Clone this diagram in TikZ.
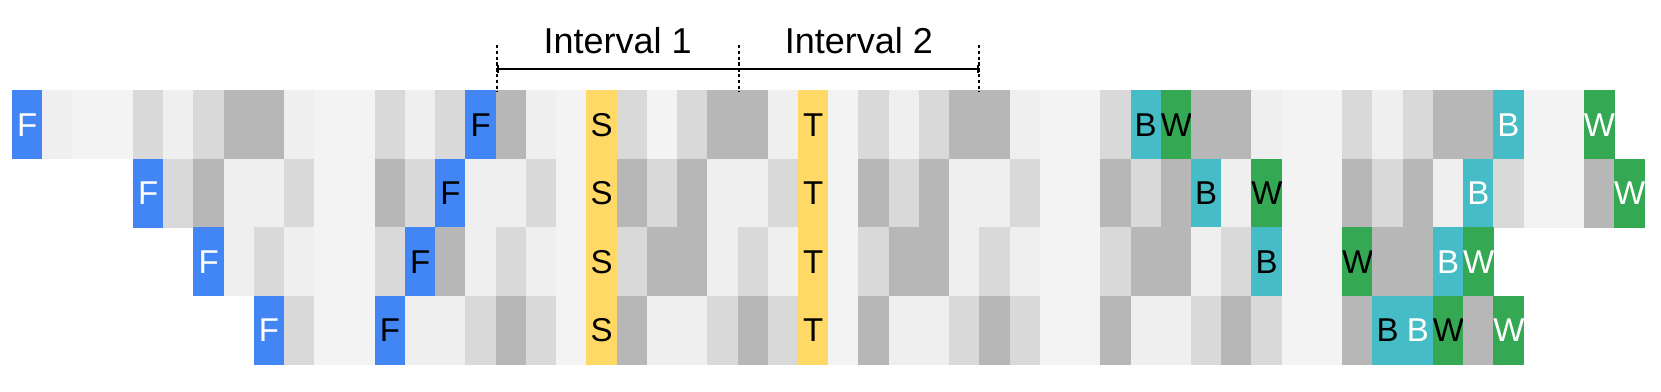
\documentclass[tikz,border=0pt]{standalone}
\usepackage{fontspec}
\setmainfont{Liberation Sans}
\usetikzlibrary{arrows.meta}
\definecolor{g0}{HTML}{F3F3F3}
\definecolor{g1}{HTML}{EFEFEF}
\definecolor{g2}{HTML}{D9D9D9}
\definecolor{g3}{HTML}{B7B7B7}
\definecolor{fblue}{HTML}{4285F4}
\definecolor{syellow}{HTML}{FFD966}
\definecolor{bteal}{HTML}{46BDC6}
\definecolor{wgreen}{HTML}{34A853}
\tikzset{
  cell/.style={rectangle, minimum width=30.4pt, minimum height=68.7pt, inner sep=0pt, outer sep=0pt, anchor=north west, font=\fontsize{33}{33}\selectfont},
  c0/.style={fill=g0}, c1/.style={fill=g1}, c2/.style={fill=g2}, c3/.style={fill=g3},
  cFw/.style={fill=fblue, text=white}, cFk/.style={fill=fblue, text=black},
  cS/.style={fill=syellow}, cT/.style={fill=syellow},
  cBw/.style={fill=bteal, text=white}, cBk/.style={fill=bteal, text=black},
  cWw/.style={fill=wgreen, text=white}, cWk/.style={fill=wgreen, text=black},
  dashline/.style={line width=2pt, dash pattern=on 3.4pt off 2.4pt},
  intlabel/.style={anchor=base, font=\fontsize{36}{36}\selectfont, inner sep=0pt}
}
\expandafter\def\csname lt0\endcsname{}
\expandafter\def\csname lt1\endcsname{}
\expandafter\def\csname lt2\endcsname{}
\expandafter\def\csname lt3\endcsname{}
\def\ltFw{F}\def\ltFk{F}\def\ltS{S}\def\ltT{T}
\def\ltBw{B}\def\ltBk{B}\def\ltWw{W}\def\ltWk{W}
\begin{document}
\begin{tikzpicture}[x=1pt,y=-1pt]
\useasboundingbox (0,0) rectangle (1661,391);
% row 1
\foreach \c [count=\k from 0] in {Fw,1,0,0,2,1,2,3,3,1,0,0,2,1,2,Fk,3,1,0,S,2,0,2,3,3,1,T,0,2,1,2,3,3,1,0,0,2,Bk,Wk,3,3,1,0,0,2,1,2,3,3,Bw,0,0,Ww}
  \node[cell,c\c] (ra\k) at ({12+30.23*\k},90.3) {\csname lt\c\endcsname};
% row 2
\foreach \c [count=\k from 4] in {Fw,2,3,1,1,2,0,0,3,2,Fk,1,1,2,0,S,3,2,3,1,1,2,T,0,3,2,3,1,1,2,0,0,3,2,3,Bk,1,Wk,0,0,3,2,3,1,Bw,2,0,0,3,Ww}
  \node[cell,c\c] (rb\k) at ({12+30.23*\k},158.8) {\csname lt\c\endcsname};
% row 3
\foreach \c [count=\k from 6] in {Fw,1,2,1,0,0,2,Fk,3,1,2,1,0,S,2,3,3,1,2,1,T,0,2,3,3,1,2,1,0,0,2,3,3,1,2,Bk,0,0,Wk,3,3,Bw,Ww}
  \node[cell,c\c] (rc\k) at ({12+30.23*\k},227.3) {\csname lt\c\endcsname};
% row 4
\foreach \c [count=\k from 8] in {Fw,2,0,0,Fk,1,1,2,3,2,0,S,3,1,1,2,3,2,T,0,3,1,1,2,3,2,0,0,3,1,1,2,3,2,0,0,3,Bk,Bw,Wk,3,Ww}
  \node[cell,c\c] (rd\k) at ({12+30.23*\k},295.8) {\csname lt\c\endcsname};
% interval annotation
\coordinate (d1t) at (496.7,45); \coordinate (d1b) at (496.7,92);
\coordinate (d2t) at (738.5,45); \coordinate (d2b) at (738.5,92);
\coordinate (d3t) at (979,45);   \coordinate (d3b) at (979,92);
\coordinate (h1) at (496.7,69); \coordinate (h3) at (979,69);
\draw[dashline] (d1t) -- (d1b);
\draw[dashline] (d2t) -- (d2b);
\draw[dashline] (d3t) -- (d3b);
\draw[line width=2pt, {Bar[width=8pt]}-{Bar[width=8pt]}] (h1) -- (h3);
\node[intlabel] (lab1) at (617.6,53.3) {Interval 1};
\node[intlabel] (lab2) at (858.8,53.3) {Interval 2};
\end{tikzpicture}
\end{document}
